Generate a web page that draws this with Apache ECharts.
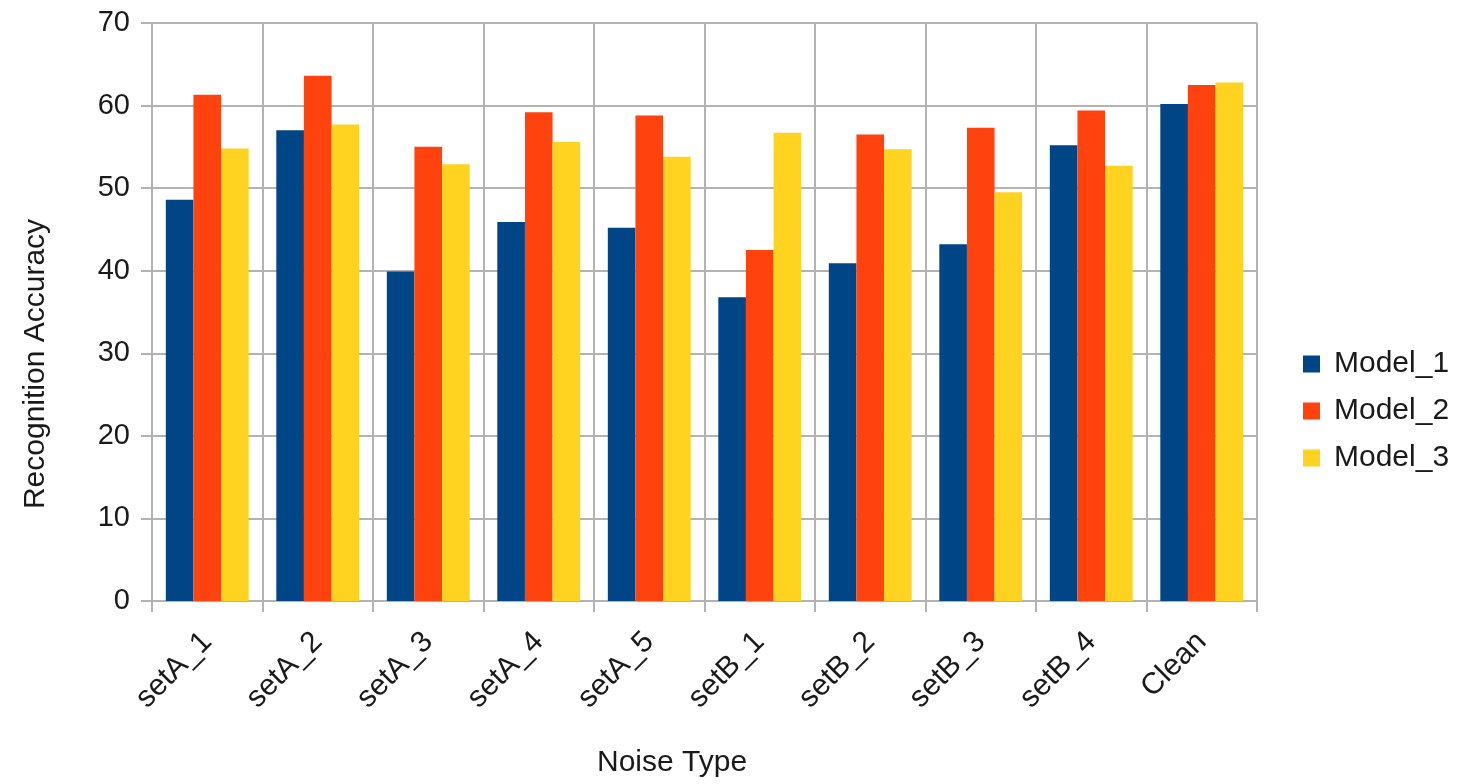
<!DOCTYPE html>
<html>
<head>
<meta charset="utf-8">
<script src="https://cdn.jsdelivr.net/npm/echarts@6/dist/echarts.min.js"></script>
<style>
  html, body { margin: 0; padding: 0; background: #ffffff; }
  #chart { width: 1466px; height: 784px; }
</style>
</head>
<body>
<div id="chart"></div>
<script>
// Noise conditions on the x axis
const categories = ['setA_1', 'setA_2', 'setA_3', 'setA_4', 'setA_5', 'setB_1', 'setB_2', 'setB_3', 'setB_4', 'Clean'];

// Recognition accuracy per model
const model1 = [48.6, 57.0, 39.9, 45.9, 45.2, 36.8, 40.9, 43.2, 55.2, 60.2];
const model2 = [61.3, 63.6, 55.0, 59.2, 58.8, 42.5, 56.5, 57.3, 59.4, 62.5];
const model3 = [54.8, 57.7, 52.9, 55.6, 53.8, 56.7, 54.7, 49.5, 52.7, 62.8];

const seriesNames = ['Model_1', 'Model_2', 'Model_3'];
const yTicks = { min: 0, max: 70, interval: 10 };

const FONT = '"Liberation Sans", Arial, sans-serif';
const GRID_COLOR = '#b3b3b3';
const TEXT_COLOR = '#1a1a1a';

const chart = echarts.init(document.getElementById('chart'), null, { renderer: 'canvas' });

const barSeries = [model1, model2, model3].map((data, i) => ({
  name: seriesNames[i],
  type: 'bar',
  data: data,
  barGap: '0%',
  barCategoryGap: '25%'
}));

chart.setOption({
  animation: false,
  color: ['#004586', '#ff420e', '#ffd320'],
  textStyle: { fontFamily: FONT },
  grid: { left: 152, right: 209, top: 23, bottom: 183, containLabel: false },
  legend: {
    orient: 'vertical',
    left: 1298,
    top: 344,
    itemWidth: 17,
    itemHeight: 17,
    itemGap: 17,
    icon: 'rect',
    textStyle: { fontFamily: FONT, fontSize: 30, color: TEXT_COLOR, padding: [0, 0, 0, 9] },
    data: seriesNames
  },
  xAxis: {
    type: 'category',
    data: categories,
    axisLine: { show: true, lineStyle: { color: GRID_COLOR, width: 2 } },
    axisTick: { show: true, length: 11, alignWithLabel: false, lineStyle: { color: GRID_COLOR, width: 2 } },
    splitLine: { show: true, lineStyle: { color: GRID_COLOR, width: 2 } },
    axisLabel: {
      rotate: 45,
      margin: 36,
      fontSize: 30,
      color: TEXT_COLOR,
      fontFamily: FONT
    }
  },
  yAxis: {
    type: 'value',
    min: yTicks.min,
    max: yTicks.max,
    interval: yTicks.interval,
    axisLine: { show: true, lineStyle: { color: GRID_COLOR, width: 2 } },
    axisTick: { show: true, length: 11, lineStyle: { color: GRID_COLOR, width: 2 } },
    splitLine: { show: true, lineStyle: { color: GRID_COLOR, width: 2 } },
    axisLabel: { fontSize: 29, color: TEXT_COLOR, fontFamily: FONT, margin: 22 }
  },
  graphic: [
    {
      type: 'text',
      x: 36,
      y: 364,
      rotation: Math.PI / 2,
      style: {
        text: 'Recognition Accuracy',
        font: '30px ' + FONT,
        fill: TEXT_COLOR,
        align: 'center',
        verticalAlign: 'middle'
      }
    },
    {
      type: 'text',
      left: 597,
      top: 748,
      style: { text: 'Noise Type', font: '30px ' + FONT, fill: TEXT_COLOR }
    }
  ],
  series: barSeries
});
</script>
</body>
</html>
